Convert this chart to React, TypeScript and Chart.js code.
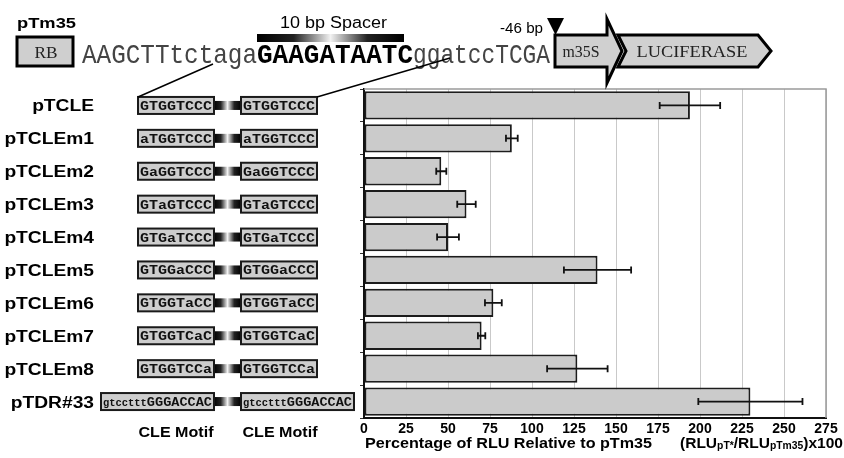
import React, { useEffect, useRef } from 'react';
import { Chart, registerables } from 'chart.js';

Chart.register(...registerables);

// ---- data ----
const constructs = ['pTCLE', 'pTCLEm1', 'pTCLEm2', 'pTCLEm3', 'pTCLEm4', 'pTCLEm5', 'pTCLEm6', 'pTCLEm7', 'pTCLEm8', 'pTDR#33'];
const motifFlank = ['', '', '', '', '', '', '', '', '', 'gtccttt'];
const motifCore = ['GTGGTCCC', 'aTGGTCCC', 'GaGGTCCC', 'GTaGTCCC', 'GTGaTCCC', 'GTGGaCCC', 'GTGGTaCC', 'GTGGTCaC', 'GTGGTCCa', 'GGGACCAC'];
const values = [194, 88, 46, 61, 50, 139, 77, 70, 127, 230];
const errors = [18, 3.5, 3, 5.5, 6.5, 20, 5, 2.2, 18, 31];
const xTicks = [0, 25, 50, 75, 100, 125, 150, 175, 200, 225, 250, 275];
const seqLeft = 'AAGCTTtctaga';
const seqSpacer = 'GAAGATAATC';
const seqRight = 'ggatccTCGA';

const SANS = '"Liberation Sans", Arial, sans-serif';
const SERIF = '"Liberation Serif", "Times New Roman", serif';
const MONO = '"Liberation Mono", "Courier New", monospace';

type Run = { text: string; font: string; dy?: number };

function fitRuns(ctx: CanvasRenderingContext2D, runs: Run[], x: number, y: number, width: number, align: 'left' | 'center' | 'right' = 'left') {
  ctx.save();
  let total = 0;
  const ws = runs.map((r) => {
    ctx.font = r.font;
    const w = ctx.measureText(r.text).width;
    total += w;
    return w;
  });
  const s = width / total;
  let x0 = x;
  if (align === 'center') x0 = x - width / 2;
  else if (align === 'right') x0 = x - width;
  ctx.translate(x0, y);
  ctx.scale(s, 1);
  ctx.textAlign = 'left';
  ctx.textBaseline = 'alphabetic';
  let cx = 0;
  runs.forEach((r, i) => {
    ctx.font = r.font;
    ctx.fillText(r.text, cx, r.dy || 0);
    cx += ws[i];
  });
  ctx.restore();
}

function fitText(ctx: CanvasRenderingContext2D, text: string, x: number, y: number, font: string, width: number, align: 'left' | 'center' | 'right' = 'left') {
  fitRuns(ctx, [{ text, font }], x, y, width, align);
}

function scaledText(ctx: CanvasRenderingContext2D, text: string, x: number, y: number, font: string, sx: number, align: 'left' | 'center' | 'right') {
  ctx.save();
  ctx.font = font;
  const w = ctx.measureText(text).width * sx;
  fitText(ctx, text, x, y, font, w, align);
  ctx.restore();
}

function spacerGradient(ctx: CanvasRenderingContext2D, x1: number, x2: number) {
  const g = ctx.createLinearGradient(x1, 0, x2, 0);
  g.addColorStop(0, '#000');
  g.addColorStop(0.25, '#222');
  g.addColorStop(0.5, '#f2f2f2');
  g.addColorStop(0.75, '#222');
  g.addColorStop(1, '#000');
  return g;
}

export default function App() {
  const ref = useRef<HTMLCanvasElement>(null);

  useEffect(() => {
    const canvas = ref.current!;

    const errPlugin = {
      id: 'errbars',
      afterDatasetsDraw(chart: any) {
        const ctx: CanvasRenderingContext2D = chart.ctx;
        const xs = chart.scales.x;
        const meta = chart.getDatasetMeta(0);
        ctx.save();
        ctx.strokeStyle = '#111';
        ctx.lineWidth = 1.8;
        meta.data.forEach((bar: any, i: number) => {
          const y = bar.y;
          const x1 = xs.getPixelForValue(values[i] - errors[i]);
          const x2 = xs.getPixelForValue(values[i] + errors[i]);
          ctx.beginPath();
          ctx.moveTo(x1, y);
          ctx.lineTo(x2, y);
          ctx.moveTo(x1, y - 3.5);
          ctx.lineTo(x1, y + 3.5);
          ctx.moveTo(x2, y - 3.5);
          ctx.lineTo(x2, y + 3.5);
          ctx.stroke();
        });
        ctx.restore();
      },
    };

    const annot = {
      id: 'annot',
      afterDraw(chart: any) {
        const ctx: CanvasRenderingContext2D = chart.ctx;
        const ys = chart.scales.y;
        const area = chart.chartArea;
        ctx.save();

        // plot frame (top & right)
        ctx.strokeStyle = '#9a9a9a';
        ctx.lineWidth = 1.5;
        ctx.beginPath();
        ctx.moveTo(area.left, area.top);
        ctx.lineTo(area.right, area.top);
        ctx.lineTo(area.right, area.bottom);
        ctx.stroke();

        // ---- rows ----
        const boxH = 17;
        const leftBoxRight = 214;
        const rightBoxLeft = 241;
        let row0Top = 0;
        constructs.forEach((name, i) => {
          const cy = ys.getPixelForValue(i);
          if (i === 0) row0Top = cy - boxH / 2;
          ctx.fillStyle = '#000';
          scaledText(ctx, name, 94, cy + 6, `bold 16px ${SANS}`, 1.2, 'right');

          const long = motifFlank[i].length > 0;
          const bw = long ? 113 : 76;
          const top = cy - boxH / 2;
          // connector
          ctx.fillStyle = spacerGradient(ctx, leftBoxRight, rightBoxLeft);
          ctx.fillRect(leftBoxRight, cy - 4.5, rightBoxLeft - leftBoxRight, 9);
          // boxes
          [leftBoxRight - bw, rightBoxLeft].forEach((bx) => {
            ctx.fillStyle = '#cdcdcd';
            ctx.fillRect(bx, top, bw, boxH);
            ctx.strokeStyle = '#1a1a1a';
            ctx.lineWidth = 2;
            ctx.strokeRect(bx, top, bw, boxH);
            ctx.fillStyle = '#111';
            const runs: Run[] = [];
            if (long) runs.push({ text: motifFlank[i], font: `bold 10px ${MONO}` });
            runs.push({ text: motifCore[i], font: `bold 13px ${MONO}` });
            fitRuns(ctx, runs, bx + 2, cy + 4.5, bw - 4, 'left');
          });
        });

        // CLE Motif captions
        ctx.fillStyle = '#000';
        fitText(ctx, 'CLE Motif', leftBoxRight - 38, 437, `bold 15px ${SANS}`, 75, 'center');
        fitText(ctx, 'CLE Motif', rightBoxLeft + 39, 437, `bold 15px ${SANS}`, 75, 'center');

        // axis title with subscripts
        fitText(ctx, 'Percentage of RLU Relative to pTm35', 365, 448, `bold 15px ${SANS}`, 287, 'left');
        fitRuns(ctx, [
          { text: '(RLU', font: `bold 15px ${SANS}` },
          { text: 'pT*', font: `bold 10px ${SANS}`, dy: 1 },
          { text: '/RLU', font: `bold 15px ${SANS}` },
          { text: 'pTm35', font: `bold 10px ${SANS}`, dy: 1 },
          { text: ')x100', font: `bold 15px ${SANS}` },
        ], 680, 448, 163, 'left');

        // ---- top construct diagram ----
        ctx.fillStyle = '#000';
        fitText(ctx, 'pTm35', 17, 28, `bold 15px ${SANS}`, 59, 'left');
        // RB box
        ctx.fillStyle = '#cfcfcf';
        ctx.fillRect(17, 37, 56, 29);
        ctx.strokeStyle = '#000';
        ctx.lineWidth = 3;
        ctx.strokeRect(17, 37, 56, 29);
        ctx.fillStyle = '#222';
        fitText(ctx, 'RB', 46, 58, `17px ${SERIF}`, 23, 'center');

        // sequence
        ctx.fillStyle = '#444';
        fitText(ctx, seqLeft, 82, 63, `28px ${MONO}`, 175, 'left');
        ctx.fillStyle = '#000';
        fitText(ctx, seqSpacer, 257, 63, `bold 28px ${MONO}`, 156, 'left');
        ctx.fillStyle = '#444';
        fitText(ctx, seqRight, 413, 63, `28px ${MONO}`, 137, 'left');

        // spacer label and bar
        ctx.fillStyle = '#000';
        fitText(ctx, '10 bp Spacer', 280, 28, `16px ${SANS}`, 107, 'left');
        ctx.fillStyle = spacerGradient(ctx, 257, 404);
        ctx.fillRect(257, 34, 147, 8);

        // connecting lines
        ctx.strokeStyle = '#000';
        ctx.lineWidth = 1.5;
        ctx.beginPath();
        ctx.moveTo(213, 64);
        ctx.lineTo(leftBoxRight - 76, row0Top);
        ctx.moveTo(450, 58);
        ctx.lineTo(rightBoxLeft + 76, row0Top);
        ctx.stroke();

        // -46 bp marker
        ctx.fillStyle = '#000';
        fitText(ctx, '-46 bp', 500, 33, `14px ${SANS}`, 43, 'left');
        ctx.beginPath();
        ctx.moveTo(547, 18);
        ctx.lineTo(564, 18);
        ctx.lineTo(555.5, 35);
        ctx.closePath();
        ctx.fill();

        // m35S arrow
        ctx.lineJoin = 'miter';
        ctx.lineWidth = 3;
        ctx.strokeStyle = '#000';
        ctx.fillStyle = '#d0d0d0';
        ctx.beginPath();
        ctx.moveTo(555, 35);
        ctx.lineTo(607, 35);
        ctx.lineTo(607, 19);
        ctx.lineTo(622, 51);
        ctx.lineTo(607, 83);
        ctx.lineTo(607, 67);
        ctx.lineTo(555, 67);
        ctx.closePath();
        ctx.fill();
        ctx.stroke();
        ctx.fillStyle = '#222';
        fitText(ctx, 'm35S', 581, 57, `17px ${SERIF}`, 37, 'center');

        // LUCIFERASE chevron
        ctx.fillStyle = '#d0d0d0';
        ctx.beginPath();
        ctx.moveTo(618, 35);
        ctx.lineTo(758, 35);
        ctx.lineTo(771, 51);
        ctx.lineTo(758, 67);
        ctx.lineTo(618, 67);
        ctx.lineTo(626, 51);
        ctx.closePath();
        ctx.fill();
        ctx.stroke();
        ctx.fillStyle = '#222';
        fitText(ctx, 'LUCIFERASE', 692, 57, `17px ${SERIF}`, 111, 'center');

        ctx.restore();
      },
    };

    const chart = new Chart(canvas, {
      type: 'bar',
      data: {
        labels: constructs,
        datasets: [
          {
            data: values,
            backgroundColor: '#cbcbcb',
            borderColor: '#1c1c1c',
            borderWidth: 2,
            borderSkipped: false,
            barPercentage: 0.86,
            categoryPercentage: 1,
          },
        ],
      },
      options: {
        indexAxis: 'y',
        responsive: false,
        animation: false,
        devicePixelRatio: 1,
        layout: { padding: { top: 89, right: 18, left: 0, bottom: 0 } },
        plugins: {
          legend: { display: false },
          tooltip: { enabled: false },
          title: { display: false },
        },
        scales: {
          x: {
            type: 'linear',
            min: 0,
            max: 275,
            afterBuildTicks: (s: any) => {
              s.ticks = xTicks.map((v) => ({ value: v }));
            },
            afterFit: (s: any) => {
              s.height = 40;
            },
            grid: { color: '#c9c9c9', lineWidth: 1, drawTicks: false },
            border: { display: true, color: '#111', width: 2 },
            ticks: {
              color: '#000',
              font: { family: 'Liberation Sans', weight: 'bold', size: 14 },
              padding: 3,
              autoSkip: false,
              maxRotation: 0,
            },
          },
          y: {
            afterFit: (s: any) => {
              s.width = 364;
            },
            grid: { drawOnChartArea: false, drawTicks: true, tickLength: 4, color: '#333', offset: true },
            border: { display: true, color: '#111', width: 2 },
            ticks: { display: false },
          },
        },
      } as any,
      plugins: [errPlugin, annot],
    });
    return () => chart.destroy();
  }, []);

  return (
    <div style={{ position: 'fixed', left: 0, top: 0, width: 844, height: 458, background: '#fff' }}>
      <canvas ref={ref} width={844} height={458} style={{ display: 'block' }} />
    </div>
  );
}
